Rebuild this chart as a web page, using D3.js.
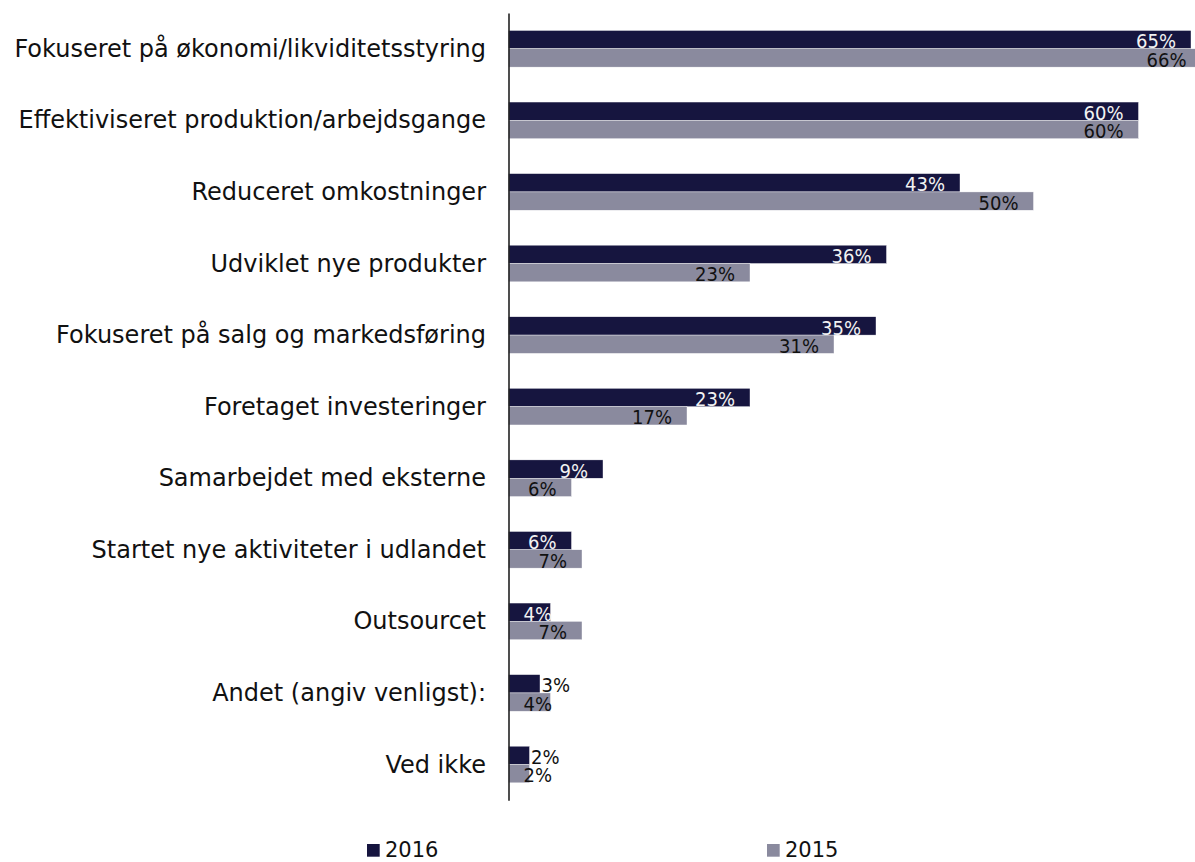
<!DOCTYPE html>
<html>
<head>
<meta charset="utf-8">
<script src="https://cdn.jsdelivr.net/npm/d3@7"></script>
<style>
  html, body { margin: 0; padding: 0; background: #ffffff; }
  svg { display: block; }
</style>
</head>
<body>
<svg id="chart" width="1195" height="862"></svg>
<script>
const categories = [
  "Fokuseret på økonomi/likviditetsstyring",
  "Effektiviseret produktion/arbejdsgange",
  "Reduceret omkostninger",
  "Udviklet nye produkter",
  "Fokuseret på salg og markedsføring",
  "Foretaget investeringer",
  "Samarbejdet med eksterne",
  "Startet nye aktiviteter i udlandet",
  "Outsourcet",
  "Andet (angiv venligst):",
  "Ved ikke"
];
const values2016 = [65, 60, 43, 36, 35, 23, 9, 6, 4, 3, 2];
const values2015 = [66, 60, 50, 23, 31, 17, 6, 7, 7, 4, 2];
const seriesNames = ["2016", "2015"];
const seriesColors = ["#16153f", "#8a8a9e"];
const labelColors = ["#f2f2f2", "#111111"];

const svg = d3.select("#chart");

const x = d3.scaleLinear().domain([0, 100]).range([508.5, 508.5 + 1050]);
const y = d3.scaleBand().domain(categories).range([13, 800.3]).paddingInner(0.488).paddingOuter(0.244);
const sub = d3.scaleBand().domain(seriesNames).range([0, y.bandwidth()]);

const data = categories.map((c, i) => ({ cat: c, vals: [values2016[i], values2015[i]] }));

const groups = svg.append("g").selectAll("g").data(data).join("g")
  .attr("transform", d => `translate(0,${y(d.cat)})`);

// bars
groups.selectAll("rect").data(d => d.vals.map((v, k) => ({ v, k })))
  .join("rect")
  .attr("x", x(0))
  .attr("y", d => sub(seriesNames[d.k]))
  .attr("width", d => x(d.v) - x(0))
  .attr("height", sub.bandwidth())
  .attr("fill", d => seriesColors[d.k])
  .attr("stroke", "#ffffff")
  .attr("stroke-width", 0.4);

// value labels
groups.selectAll("text.val").data(d => d.vals.map((v, k) => ({ v, k })))
  .join("text")
  .attr("class", "val")
  .attr("font-family", "'DejaVu Sans Condensed', 'DejaVu Sans', sans-serif")
  .attr("font-size", "20px")
  .attr("y", d => sub(seriesNames[d.k]) + sub.bandwidth() - 0.5)
  .text(d => d.v + "%")
  .each(function(d) {
    const t = d3.select(this);
    const tw = this.getComputedTextLength();
    const end = x(d.v);
    const w = end - x(0);
    if (d.k === 0 && w < 35) {
      t.attr("x", end + 1.5).attr("fill", "#111111");
    } else {
      t.attr("x", Math.max(end - 15 - tw, x(0) + 15)).attr("fill", labelColors[d.k]);
    }
  });

// category labels
svg.append("g").selectAll("text").data(categories).join("text")
  .attr("x", 486)
  .attr("y", d => y(d) + y.bandwidth() / 2 + 8)
  .attr("text-anchor", "end")
  .attr("font-family", "'DejaVu Sans', Verdana, sans-serif")
  .attr("font-size", "24px")
  .attr("fill", "#111111")
  .text(d => d);

// axis line
const axis = d3.axisLeft(y).tickSize(0).tickFormat("");
svg.append("g").attr("transform", `translate(${x(0)},0)`).call(axis)
  .call(g => g.select(".domain").attr("stroke", "#222222").attr("stroke-width", 1.6));

// legend
const legendX = [367, 767];
const legend = svg.append("g").selectAll("g").data(seriesNames).join("g")
  .attr("transform", (d, i) => `translate(${legendX[i]},844)`);
legend.append("rect").attr("width", 12.7).attr("height", 12.7)
  .attr("fill", (d, i) => seriesColors[i]);
legend.append("text").attr("x", 18).attr("y", 12.7)
  .attr("font-family", "'DejaVu Sans', Verdana, sans-serif")
  .attr("font-size", "21px").attr("fill", "#111111")
  .text(d => d);
</script>
</body>
</html>
